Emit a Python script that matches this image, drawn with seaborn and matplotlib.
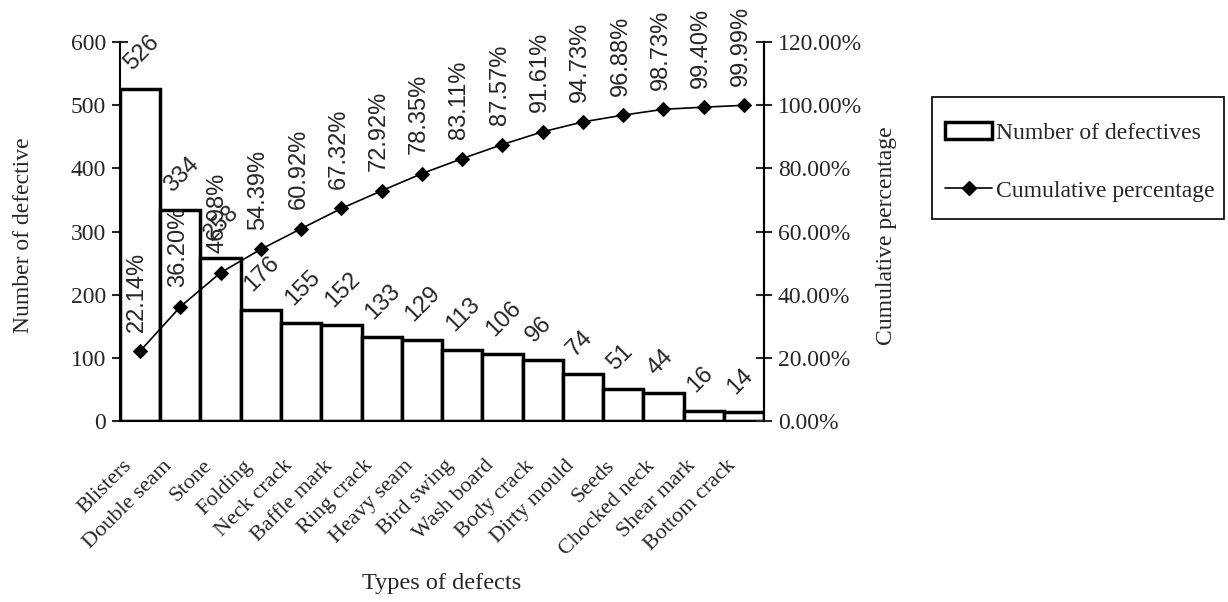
import numpy as np
import pandas as pd
import matplotlib
matplotlib.use("Agg")
import matplotlib.pyplot as plt
import matplotlib.transforms as mtransforms
import seaborn as sns
from matplotlib.patches import Patch, Rectangle
from matplotlib.lines import Line2D
from matplotlib.ticker import FixedLocator, PercentFormatter

defects = ["Blisters", "Double seam", "Stone", "Folding", "Neck crack", "Baffle mark",
           "Ring crack", "Heavy seam", "Bird swing", "Wash board", "Body crack",
           "Dirty mould", "Seeds", "Chocked neck", "Shear mark", "Bottom crack"]
counts = [526, 334, 258, 176, 155, 152, 133, 129, 113, 106, 96, 74, 51, 44, 16, 14]
cum_pct = [22.14, 36.20, 46.98, 54.39, 60.92, 67.32, 72.92, 78.35, 83.11, 87.57,
           91.61, 94.73, 96.88, 98.73, 99.40, 99.99]

df = pd.DataFrame({"defect": defects, "count": counts, "cum": cum_pct})
df["pos"] = np.arange(len(df))

sns.set_style("white")
serif = ["Liberation Serif", "DejaVu Serif"]
sans = ["Liberation Sans", "DejaVu Sans"]
plt.rcParams["font.family"] = serif

fig = plt.figure(figsize=(12.28, 6.02), dpi=100)
ax = fig.add_axes([0.0977, 0.3007, 0.5245, 0.6293])

sns.barplot(data=df, x="defect", y="count", color="white", edgecolor="black",
            linewidth=2.5, width=1.0, ax=ax)
ax.set_xlim(-0.5, len(df) - 0.5)
ax.set_ylim(0, 600)
ax.set_yticks(range(0, 601, 100))

ax2 = ax.twinx()
sns.lineplot(data=df, x="pos", y="cum", color="black", linewidth=1.2, marker="D",
             markersize=7.5, markeredgecolor="black", ax=ax2)
ax2.set_ylim(0, 120)
ax2.set_yticks(range(0, 121, 20))
ax2.yaxis.set_major_formatter(PercentFormatter(decimals=2))

# value labels on bars
for p, c in zip(df["pos"], df["count"]):
    ax.annotate(str(c), (p - 0.12, c), xytext=(0, 10), textcoords="offset points",
                rotation=45, ha="left", va="bottom", rotation_mode="anchor",
                fontsize=17, family=sans)

# cumulative labels
for p, v in zip(df["pos"], df["cum"]):
    ax2.annotate(f"{v:.2f}%", (p, v), xytext=(-2, 14), textcoords="offset points",
                 rotation=90, ha="center", va="bottom", fontsize=17, family=sans)

for a in (ax, ax2):
    for s in a.spines.values():
        s.set_color("black")
        s.set_linewidth(1.5)
    a.spines["top"].set_visible(False)
ax2.spines["left"].set_visible(False)
ax2.spines["bottom"].set_visible(False)

ax.tick_params(axis="y", direction="inout", length=12, width=1.5, labelsize=17, pad=4)
ax2.tick_params(axis="y", direction="inout", length=12, width=1.5, labelsize=17, pad=4)

ax.set_xticks(df["pos"])
ax.set_xticklabels(defects, rotation=45, ha="right", rotation_mode="anchor", fontsize=16)
ax.tick_params(axis="x", which="major", length=0, pad=14)
shift = mtransforms.ScaledTranslation(-18 / 100, -16 / 100, fig.dpi_scale_trans)
for lab in ax.get_xticklabels():
    lab.set_transform(lab.get_transform() + shift)
ax.xaxis.set_minor_locator(FixedLocator(np.arange(-0.5, len(df), 1.0)))
ax.tick_params(axis="x", which="minor", direction="inout", length=12, width=1.5)

ax.set_xlabel("Types of defects", fontsize=17.5)
ax.xaxis.set_label_coords(0.5, -0.40)
ax.set_ylabel("Number of defective", fontsize=17)
ax.yaxis.set_label_coords(-0.134, 0.49)
ax2.set_ylabel("Cumulative percentage", fontsize=17)
ax2.yaxis.set_label_coords(1.174, 0.49)

# legend (frame drawn separately so it can hug the text)
handles = [Patch(facecolor="white", edgecolor="black", linewidth=2.5),
           Line2D([0], [0], color="black", linewidth=1.2, marker="D", markersize=7.5)]
leg = fig.legend(handles, ["Number of defectives", "Cumulative percentage"],
                 loc="upper left", bbox_to_anchor=(945 / 1228, 1 - 122 / 602), fontsize=17,
                 frameon=False, labelspacing=1.55, handlelength=2.0,
                 handletextpad=0.15, borderpad=0, borderaxespad=0)
fig.patches.append(Rectangle((932 / 1228, 1 - 219 / 602), 292 / 1228, 122 / 602,
                             transform=fig.transFigure, facecolor="none",
                             edgecolor="black", linewidth=1.2))

fig.savefig("out.png", dpi=100)
